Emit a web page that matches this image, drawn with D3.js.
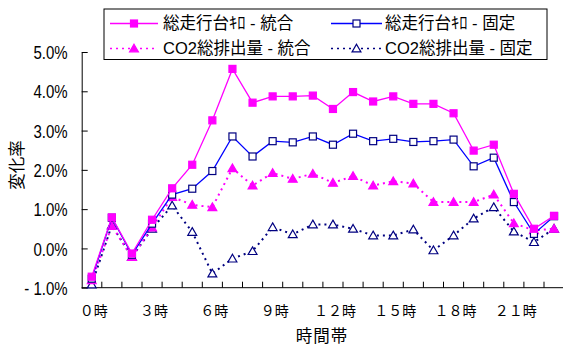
<!DOCTYPE html>
<html>
<head>
<meta charset="utf-8">
<script src="https://cdn.jsdelivr.net/npm/d3@7"></script>
<style>
  html, body { margin: 0; padding: 0; background: #fff; }
  svg { display: block; }
  text { font-family: "Liberation Sans", "Noto Sans CJK JP", sans-serif; fill: #000; }
</style>
</head>
<body>
<svg id="chart" width="563" height="347"></svg>
<script>
// Hours of the day (category axis)
const hours = d3.range(24);
const hourLabels = ["０時","１時","２時","３時","４時","５時","６時","７時","８時","９時","１０時","１１時",
                    "１２時","１３時","１４時","１５時","１６時","１７時","１８時","１９時","２０時","２１時","２２時","２３時"];
const yTicks = [-1, 0, 1, 2, 3, 4, 5];

// Rate of change (%) per hour
const totalKmIntegrated = [-0.72, 0.79, -0.13, 0.73, 1.53, 2.13, 3.26, 4.57, 3.71, 3.87, 3.87, 3.89,
                           3.55, 3.98, 3.74, 3.87, 3.68, 3.68, 3.44, 2.49, 2.64, 1.39, 0.50, 0.83];
const totalKmFixed      = [-0.77, 0.78, -0.16, 0.63, 1.37, 1.52, 1.97, 2.85, 2.34, 2.73, 2.70, 2.85,
                           2.64, 2.92, 2.73, 2.79, 2.71, 2.73, 2.77, 2.09, 2.31, 1.18, 0.37, 0.82];
const co2Integrated     = [-0.81, 0.57, -0.22, 0.53, 1.31, 1.11, 1.05, 2.04, 1.60, 1.92, 1.77, 1.90,
                           1.67, 1.84, 1.60, 1.71, 1.65, 1.18, 1.18, 1.18, 1.37, 0.64, 0.46, 0.50];
const co2Fixed          = [-0.92, 0.59, -0.22, 0.50, 1.09, 0.42, -0.64, -0.26, -0.07, 0.54, 0.36, 0.61,
                           0.61, 0.50, 0.33, 0.33, 0.48, -0.05, 0.33, 0.76, 1.05, 0.43, 0.16, 0.50];

const seriesNames = ["総走行台ｷﾛ - 統合", "総走行台ｷﾛ - 固定", "CO2総排出量 - 統合", "CO2総排出量 - 固定"];

const series = [
  { name: seriesNames[0], values: totalKmIntegrated, line: "#ff00ff", dash: null, width: 1.3,
    marker: "square", mStroke: "#ff00ff", mFill: "#ff00ff" },
  { name: seriesNames[1], values: totalKmFixed, line: "#0000ff", dash: null, width: 1.3,
    marker: "square", mStroke: "#000080", mFill: "#ffffff" },
  { name: seriesNames[2], values: co2Integrated, line: "#ff00ff", dash: "2,4", width: 2,
    marker: "triangle", mStroke: "#ff00ff", mFill: "#ff00ff" },
  { name: seriesNames[3], values: co2Fixed, line: "#000080", dash: "2,4", width: 2,
    marker: "triangle", mStroke: "#000080", mFill: "#ffffff" }
];

const svg = d3.select("#chart");
const plotL = 81.7, plotR = 564.1, plotT = 52, plotB = 287.7;

const x = d3.scaleBand().domain(hours).range([plotL, plotR]);
const y = d3.scaleLinear().domain([-1, 5]).range([plotB, plotT]);

// Y axis: ticks point into the plot; labels use a tall, narrow face
const yAxis = d3.axisLeft(y).tickValues(yTicks).tickSizeInner(-6).tickSizeOuter(0)
  .tickFormat(d => (d < 0 ? "- " + Math.abs(d).toFixed(1) : d.toFixed(1)) + "%");
const gy = svg.append("g").attr("transform", `translate(${plotL},0)`).call(yAxis);
gy.attr("font-family", null).attr("font-size", null);
gy.select(".domain").attr("stroke", "#000").attr("stroke-width", 1);
gy.selectAll(".tick line").attr("stroke", "#000");
gy.selectAll(".tick text").attr("x", 0).attr("font-size", 15).attr("dy", "0.36em")
  .attr("transform", "translate(-14,0) scale(1,1.22)");

// X axis: category boundary ticks pointing up, labels every 3 hours
const gx = svg.append("g").attr("transform", `translate(0,${plotB})`);
gx.append("line").attr("x1", plotL).attr("x2", plotR).attr("stroke", "#000");
gx.selectAll("line.tk").data(hours.slice(1)).join("line").attr("class", "tk")
  .attr("x1", d => x(d)).attr("x2", d => x(d)).attr("y1", 0).attr("y2", -6).attr("stroke", "#000");
gx.selectAll("text").data(hours.filter(h => h % 3 === 0)).join("text")
  .attr("x", d => x(d) + x.bandwidth() / 2 + 2).attr("y", 28)
  .attr("text-anchor", "middle").attr("font-size", 14)
  .text(d => hourLabels[d]);

// Axis titles
svg.append("text").attr("x", 322).attr("y", 342).attr("text-anchor", "middle")
  .attr("font-size", 16.5).attr("letter-spacing", 1).text("時間帯");
svg.append("text").attr("transform", "translate(23,165) rotate(-90)").attr("text-anchor", "middle")
  .attr("font-size", 16.5).text("変化率");

// Lines and markers
const cx = d => x(d) + x.bandwidth() / 2;
const lineGen = vals => d3.line().x((v, i) => cx(hours[i])).y(v => y(v))(vals);
const tri = d3.symbol().type(d3.symbolTriangle).size(34);

function drawMarker(g, s, px, py) {
  if (s.marker === "square") {
    g.append("rect").attr("x", px - 3.5).attr("y", py - 3.5).attr("width", 7).attr("height", 7)
      .attr("fill", s.mFill).attr("stroke", s.mStroke).attr("stroke-width", 1.2);
  } else {
    g.append("path").attr("d", tri()).attr("transform", `translate(${px},${py + 0.8})`)
      .attr("fill", s.mFill).attr("stroke", s.mStroke).attr("stroke-width", 1.2);
  }
}

// draw in reverse so the first series sits on top
series.slice().reverse().forEach(s => {
  const g = svg.append("g");
  g.append("path").attr("d", lineGen(s.values)).attr("fill", "none")
    .attr("stroke", s.line).attr("stroke-width", s.width)
    .attr("stroke-dasharray", s.dash);
  s.values.forEach((v, i) => drawMarker(g, s, cx(hours[i]), y(v)));
});

// Legend
const lg = svg.append("g");
lg.append("rect").attr("x", 104).attr("y", 9).attr("width", 443).attr("height", 50.5)
  .attr("fill", "#fff").attr("stroke", "#000").attr("stroke-width", 1);
const legendPos = [
  { lx1: 110, lx2: 158, tx: 163, cy: 23.5 },
  { lx1: 331, lx2: 382, tx: 385, cy: 23.5 },
  { lx1: 110, lx2: 158, tx: 163, cy: 48.5 },
  { lx1: 331, lx2: 382, tx: 385, cy: 48.5 }
];
series.forEach((s, i) => {
  const p = legendPos[i];
  const g = lg.append("g");
  g.append("line").attr("x1", p.lx1).attr("x2", p.lx2).attr("y1", p.cy).attr("y2", p.cy)
    .attr("stroke", s.line).attr("stroke-width", s.dash ? 1.5 : 1.3).attr("stroke-dasharray", s.dash);
  drawMarker(g, s, (p.lx1 + p.lx2) / 2, p.cy);
  g.append("text").attr("x", p.tx).attr("y", p.cy).attr("dy", "0.36em")
    .attr("font-size", 16.5).text(s.name);
});
</script>
</body>
</html>
